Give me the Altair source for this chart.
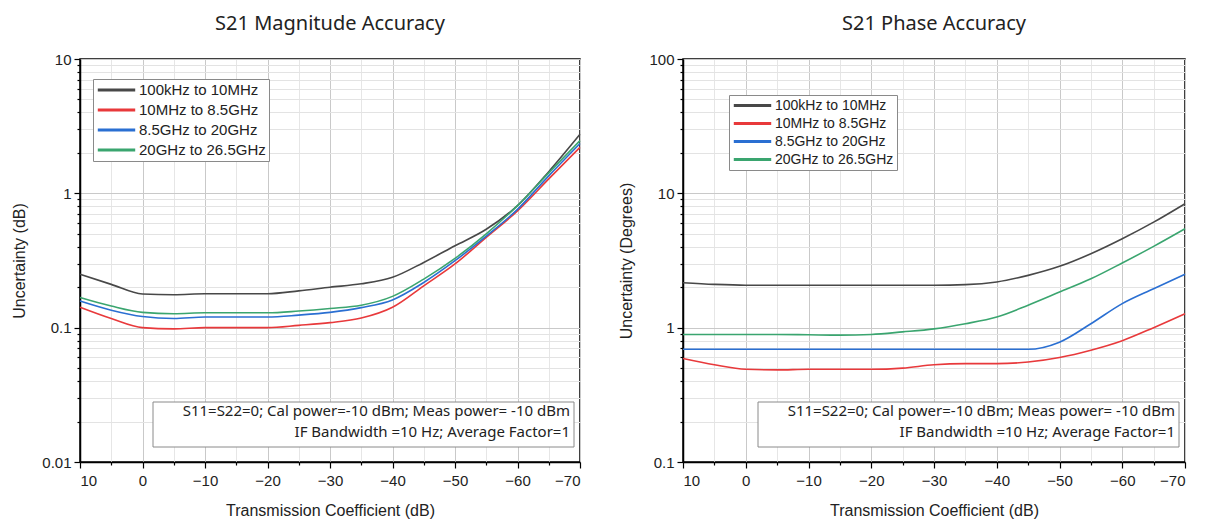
import altair as alt
import pandas as pd

# ---------------- data ----------------
x_vals = [10, 5, 0, -5, -10, -15, -20, -25, -30, -35, -40, -45, -50, -55, -60, -65, -70]
series = ["100kHz to 10MHz", "10MHz to 8.5GHz", "8.5GHz to 20GHz", "20GHz to 26.5GHz"]
colors = ["#484848", "#e8393b", "#2a6fd2", "#3aa56f"]

mag_black = [0.25, 0.21, 0.178, 0.176, 0.179, 0.179, 0.179, 0.188, 0.2, 0.212, 0.237, 0.306, 0.407, 0.54, 0.81, 1.45, 2.75]
mag_red = [0.142, 0.117, 0.1, 0.098, 0.1, 0.1, 0.1, 0.104, 0.109, 0.118, 0.142, 0.205, 0.298, 0.47, 0.74, 1.28, 2.2]
mag_blue = [0.158, 0.135, 0.121, 0.117, 0.12, 0.12, 0.12, 0.124, 0.13, 0.141, 0.161, 0.217, 0.315, 0.48, 0.76, 1.35, 2.35]
mag_green = [0.168, 0.145, 0.13, 0.127, 0.129, 0.129, 0.129, 0.133, 0.139, 0.147, 0.171, 0.23, 0.328, 0.5, 0.81, 1.42, 2.47]

ph_black = [2.16, 2.1, 2.07, 2.07, 2.07, 2.07, 2.07, 2.07, 2.07, 2.09, 2.19, 2.45, 2.86, 3.55, 4.59, 6.1, 8.37]
ph_red = [0.59, 0.53, 0.49, 0.485, 0.49, 0.49, 0.49, 0.5, 0.53, 0.54, 0.54, 0.555, 0.6, 0.68, 0.8, 1.0, 1.27]
ph_blue = [0.69, 0.69, 0.69, 0.69, 0.69, 0.69, 0.69, 0.69, 0.69, 0.69, 0.69, 0.69, 0.78, 1.07, 1.51, 1.95, 2.5]
ph_green = [0.89, 0.89, 0.89, 0.89, 0.885, 0.88, 0.89, 0.93, 0.98, 1.07, 1.2, 1.47, 1.84, 2.31, 3.03, 4.03, 5.45]

note_text = "S11=S22=0; Cal power=-10 dBm; Meas power= -10 dBm\nIF Bandwidth =10 Hz; Average Factor=1"

H = 403


def make_df(cols):
    rows = []
    for name, vals in zip(series, cols):
        for xv, yv in zip(x_vals, vals):
            rows.append({"x": xv, "y": yv, "series": name})
    return pd.DataFrame(rows)


def log_ticks(lo_exp, hi_exp):
    vals = []
    for e in range(lo_exp, hi_exp):
        for m in range(1, 10):
            vals.append(round(m * 10 ** e, 6))
    vals.append(round(10 ** hi_exp, 6))
    return vals


is_decade = "abs(log(datum.value)/LN10 - round(log(datum.value)/LN10)) < 1e-6"


def panel(df, title, ydom, yexp, ytitle, lx, ly, lfont, lrow, W):
    xaxis = alt.Axis(
        values=list(range(-70, 11, 5)),
        format="d",
        labelExpr="datum.value % 10 == 0 ? datum.label : ''",
        tickSize={"expr": "datum.value % 10 == 0 ? 6 : 3"},
        gridColor={"expr": "datum.value % 10 == 0 ? '#c9c9c9' : '#e6e6e6'"},
        title="Transmission Coefficient (dB)",
        titlePadding=14,
        labelPadding=5,
    )
    yaxis = alt.Axis(
        values=log_ticks(*yexp),
        format="~g",
        labelExpr=is_decade + " ? datum.label : ''",
        tickSize={"expr": is_decade + " ? 6 : 3"},
        gridColor={"expr": is_decade + " ? '#c9c9c9' : '#e3e3e3'"},
        title=ytitle,
        titlePadding=14,
        labelPadding=3,
    )
    lines = alt.Chart(df).mark_line(strokeWidth=1.6, interpolate="monotone").encode(
        x=alt.X("x:Q", scale=alt.Scale(domain=[-70, 10], reverse=True, nice=False), axis=xaxis),
        y=alt.Y("y:Q", scale=alt.Scale(type="log", domain=ydom, nice=False), axis=yaxis),
        color=alt.Color(
            "series:N",
            scale=alt.Scale(domain=series, range=colors),
            sort=series,
            legend=alt.Legend(
                title=None,
                orient="none",
                legendX=lx,
                legendY=ly,
                strokeColor="#8a8a8a",
                fillColor="white",
                padding=3,
                symbolType="stroke",
                symbolSize=1400,
                symbolStrokeWidth=3,
                clipHeight=lfont + 1,
                rowPadding=lrow,
                labelFont="Liberation Sans",
                labelFontSize=lfont,
                labelColor="#222222",
                labelOffset=2,
                labelLimit=300,
            ),
        ),
    )
    note_df = pd.DataFrame({"t": [note_text]})
    box = alt.Chart(note_df).mark_rect(fill="white", stroke="#8a8a8a", strokeWidth=1).encode(
        x=alt.value(W - 427), x2=alt.value(W - 6), y=alt.value(H - 60), y2=alt.value(H - 15)
    )
    txt = alt.Chart(note_df).mark_text(
        align="right", baseline="top", lineBreak="\n", lineHeight=21,
        font="Noto Sans", fontSize=15, color="#222222"
    ).encode(x=alt.value(W - 10), y=alt.value(H - 58), text="t:N")
    return alt.layer(lines, box, txt).properties(
        width=W, height=H,
        title=alt.TitleParams(title, font="Noto Sans", fontSize=20, fontWeight="normal",
                              color="#222222", offset=18, anchor="middle"),
    )


left = panel(make_df([mag_black, mag_red, mag_blue, mag_green]), "S21 Magnitude Accuracy",
             [0.01, 10], (-2, 1), "Uncertainty (dB)", 13, 20, 15, 4, 500)
right = panel(make_df([ph_black, ph_red, ph_blue, ph_green]), "S21 Phase Accuracy",
              [0.1, 100], (-1, 2), "Uncertainty (Degrees)", 46, 36, 14, 3, 502)

chart = alt.hconcat(left, right, spacing=34).resolve_scale(
    x="independent", y="independent"
).resolve_legend(color="independent").properties(
    padding={"left": 3, "top": 5, "right": 3, "bottom": 5}
).configure(background="white").configure_view(
    stroke="black", strokeWidth=1.5
).configure_axis(
    domainColor="black", domainWidth=1.5, tickColor="black", tickWidth=1.2,
    labelFont="Liberation Sans", labelFontSize=15, labelColor="#222222",
    titleFont="Liberation Sans", titleFontSize=16, titleFontWeight="normal", titleColor="#222222",
    gridWidth=1,
)

chart.save("out.html", embed_options={"renderer": "svg", "actions": False})
